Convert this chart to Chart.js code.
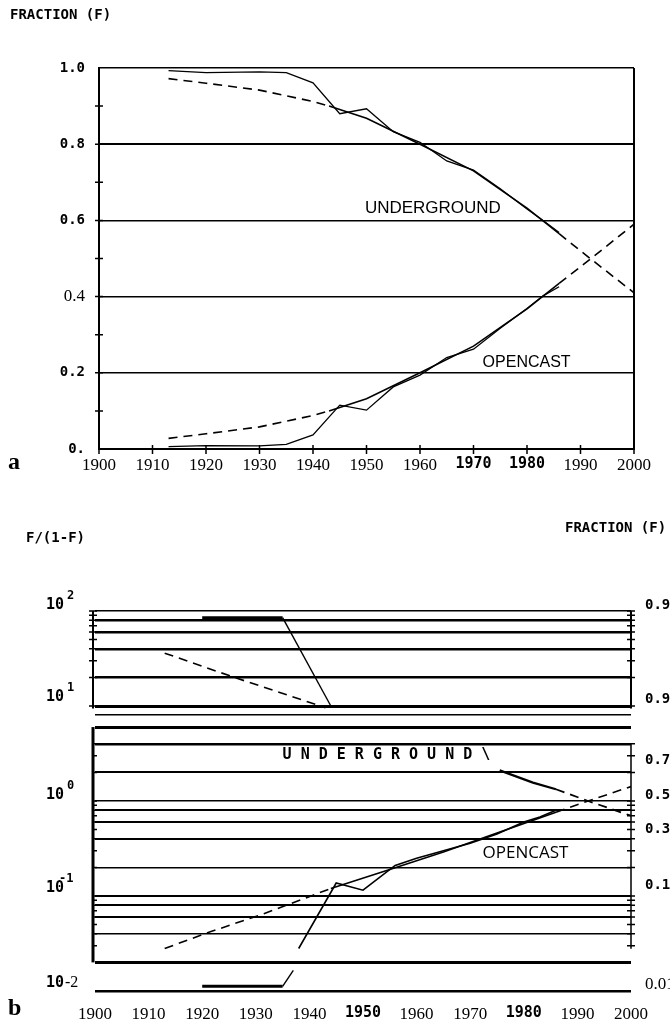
<!DOCTYPE html>
<html lang="en">
<head>
<meta charset="UTF-8">
<title>Underground and opencast fractions</title>
<script src="https://cdn.jsdelivr.net/npm/chart.js"></script>
<style>
  html, body { margin: 0; padding: 0; background: #fff; }
  body { width: 670px; height: 1025px; position: relative; overflow: hidden; }
  canvas { position: absolute; left: 0; }
  #chartA { top: 0; }
  #chartB { top: 500px; }
</style>
</head>
<body>
<canvas id="chartA" width="670" height="500"></canvas>
<canvas id="chartB" width="670" height="525"></canvas>
<script>
// ---- panel a : fraction F ----
const years = [1913, 1920, 1930, 1935, 1940, 1945, 1950, 1955, 1960, 1965, 1970, 1975, 1980, 1983, 1986];
const undergroundF = [0.993, 0.988, 0.990, 0.988, 0.961, 0.880, 0.893, 0.833, 0.805, 0.756, 0.732, 0.683, 0.630, 0.600, 0.568];
const opencastF = [0.006, 0.009, 0.008, 0.012, 0.037, 0.115, 0.102, 0.163, 0.194, 0.240, 0.262, 0.317, 0.369, 0.402, 0.426];
const fitYears = [1913, 1920, 1930, 1940, 1943, 1950, 1960, 1970, 1980, 1986, 1990, 2000];
const undergroundFitF = [0.972, 0.960, 0.942, 0.912, 0.900, 0.868, 0.800, 0.730, 0.632, 0.565, 0.520, 0.410];
const opencastFitF = [0.028, 0.040, 0.058, 0.088, 0.100, 0.132, 0.200, 0.270, 0.368, 0.435, 0.478, 0.590];
const yearTicks = [1900, 1910, 1920, 1930, 1940, 1950, 1960, 1970, 1980, 1990, 2000];

// ---- panel b : F/(1-F), log scale ----
const ugUpperYears = [1920, 1935, 1944];
const ugUpperRatio = [85, 85, 10];
const ugUpperFitYears = [1913, 1926, 1943];
const ugUpperFitRatio = [36, 20, 9.6];
const ugLowerYears = [1975.5, 1981.7, 1986];
const ugLowerRatio = [2.1, 1.56, 1.33];
const ugLowerFitYears = [1986, 1992, 2000];
const ugLowerFitRatio = [1.33, 1.0, 0.70];
const ocYears = [1938, 1945, 1950, 1956, 1960, 1965, 1970, 1975, 1980, 1983, 1986];
const ocRatio = [0.028, 0.137, 0.115, 0.21, 0.25, 0.30, 0.36, 0.45, 0.60, 0.68, 0.80];
const ocFitYears = [1913, 1921.5, 1931.5, 1944, 1955, 1965, 1975, 1986, 1992, 2000];
const ocFitRatio = [0.028, 0.042, 0.065, 0.12, 0.19, 0.29, 0.46, 0.76, 1.0, 1.42];
const ocStripYears = [1920, 1935, 1937];
const ocStripRatio = [0.0112, 0.0112, 0.0165];
const ratioGrid = [100, 80, 60, 40, 20, 10, 8, 6, 4, 2, 1, 0.8, 0.6, 0.4, 0.2, 0.1, 0.08, 0.06, 0.04, 0.02, 0.01];
const rightLabels = ['0.99', '0.91', '0.7', '0.5', '0.3', '0.1', '0.01'];
const rightLabelRatio = [99, 10.1, 2.33, 1, 0.43, 0.111, 0.0101];
const upperAxisTicks = [100, 90, 80, 70, 60, 50, 40, 30, 20, 10];
const lowerAxisTicks = [4, 3, 2, 1, 0.9, 0.8, 0.7, 0.6, 0.5, 0.4, 0.3, 0.2, 0.1, 0.09, 0.08, 0.07, 0.06, 0.05, 0.04, 0.03];

const MONO = 'DejaVu Sans Mono';
const SERIF = 'Liberation Serif';

function pts(xs, ys) { return xs.map((x, i) => ({ x: x, y: ys[i] })); }
function line(data, width, extra) {
  return Object.assign({ data: data, borderColor: '#000', borderWidth: width, pointRadius: 0, fill: false, tension: 0 }, extra || {});
}
function tickVal(c) { return c && c.tick ? c.tick.value : null; }
// fit curves are dashed outside the data period
const fitSegment = { borderDash: c => (c.p0.parsed.x < 1943 || c.p0.parsed.x >= 1986) ? [9, 6] : [] };

const decorA = {
  id: 'decorA',
  afterDraw(chart) {
    const { ctx, chartArea: a, scales: { x, y } } = chart;
    ctx.save();
    ctx.strokeStyle = '#000';
    ctx.lineWidth = 2;
    ctx.beginPath();
    ctx.moveTo(a.right, a.top); ctx.lineTo(a.right, a.bottom + 1);
    ctx.stroke();
    ctx.lineWidth = 1.5;
    ctx.beginPath();
    for (let i = 1; i < 10; i++) {
      const py = y.getPixelForValue(i / 10);
      ctx.moveTo(a.left - 4, py); ctx.lineTo(a.left + 4, py);
    }
    yearTicks.forEach(t => {
      const px = x.getPixelForValue(t);
      ctx.moveTo(px, a.bottom - 4); ctx.lineTo(px, a.bottom + 5);
    });
    ctx.stroke();

    ctx.fillStyle = '#000';
    ctx.textBaseline = 'middle';
    ctx.font = 'bold 14px ' + MONO;
    ctx.fillText('FRACTION (F)', 10, 15);
    ctx.font = 'bold 24px ' + SERIF;
    ctx.fillText('a', 8, 463);
    ctx.font = '17px "Liberation Sans"';
    ctx.fillText('UNDERGROUND', x.getPixelForValue(1949.7), y.getPixelForValue(0.633));
    ctx.font = '16px "Liberation Sans"';
    ctx.fillText('OPENCAST', x.getPixelForValue(1971.7), y.getPixelForValue(0.228));
    ctx.restore();
  }
};

new Chart(document.getElementById('chartA'), {
  type: 'line',
  data: {
    datasets: [
      line(pts(years, undergroundF), 1.3),
      line(pts(years, opencastF), 1.3),
      line(pts(fitYears, undergroundFitF), 1.6, { segment: fitSegment }),
      line(pts(fitYears, opencastFitF), 1.6, { segment: fitSegment })
    ]
  },
  options: {
    responsive: false,
    animation: false,
    layout: { padding: { top: 68, right: 36, left: 0, bottom: 0 } },
    plugins: { legend: { display: false }, tooltip: { enabled: false } },
    scales: {
      x: {
        type: 'linear', min: 1900, max: 2000,
        afterBuildTicks: s => { s.ticks = yearTicks.map(v => ({ value: v })); },
        afterFit: s => { s.height = 51; },
        grid: { display: false },
        border: { display: true, color: '#000', width: 2 },
        ticks: {
          color: '#000', padding: -2, maxRotation: 0, autoSkip: false,
          callback: v => String(v),
          font: c => {
            const v = tickVal(c);
            return (v === 1970 || v === 1980) ? { family: MONO, size: 15, weight: 'bold' } : { family: SERIF, size: 17 };
          }
        }
      },
      y: {
        min: 0, max: 1,
        afterFit: s => { s.width = 99; },
        border: { display: true, color: '#000', width: 2 },
        grid: {
          drawTicks: false,
          color: c => (Math.round((tickVal(c) || 0) * 10) % 2 === 0) ? '#000' : 'rgba(0,0,0,0)',
          lineWidth: c => Math.round((tickVal(c) || 0) * 10) === 8 ? 2 : 1.5
        },
        ticks: {
          stepSize: 0.1, color: '#000', padding: 14, autoSkip: false,
          callback: v => {
            const k = Math.round(v * 10);
            if (k % 2) return '';
            return k === 0 ? '0.' : (k / 10).toFixed(1);
          },
          font: c => {
            const k = Math.round((tickVal(c) || 0.1) * 10);
            return (k === 4 || k === 0) ? { family: SERIF, size: 17 } : { family: MONO, size: 14, weight: 'bold' };
          }
        }
      }
    }
  },
  plugins: [decorA]
});

// ---- panel b ----
const gridWidth = { 100: 1.5, 80: 2.5, 60: 2.5, 40: 2.5, 20: 2.5, 10: 3, 8: 1.5, 6: 3, 4: 2.5, 2: 2, 1: 1.5,
  0.8: 2, 0.6: 2, 0.4: 2, 0.2: 1.5, 0.1: 2, 0.08: 2, 0.06: 2, 0.04: 1.5, 0.02: 3, 0.01: 2.5 };

const decorB = {
  id: 'decorB',
  afterDraw(chart) {
    const { ctx, chartArea: a, scales: { x, y } } = chart;
    const py = v => y.getPixelForValue(v);
    const lx = a.left - 2, rx = a.right;
    ctx.save();
    ctx.strokeStyle = '#000';
    // upper panel axes
    ctx.lineWidth = 2;
    ctx.beginPath();
    ctx.moveTo(lx, py(100)); ctx.lineTo(lx, py(9.4));
    ctx.moveTo(rx, py(100)); ctx.lineTo(rx, py(9.4));
    ctx.stroke();
    // lower box
    ctx.lineWidth = 3;
    ctx.beginPath();
    ctx.moveTo(lx, py(6)); ctx.lineTo(lx, py(0.02));
    ctx.stroke();
    ctx.lineWidth = 1.5;
    ctx.beginPath();
    ctx.moveTo(rx, py(4)); ctx.lineTo(rx, py(0.03) + 3);
    upperAxisTicks.forEach(v => {
      ctx.moveTo(lx - 4, py(v)); ctx.lineTo(lx + 4, py(v));
      ctx.moveTo(rx - 4, py(v)); ctx.lineTo(rx + 4, py(v));
    });
    lowerAxisTicks.forEach(v => {
      ctx.moveTo(lx, py(v)); ctx.lineTo(lx + 4, py(v));
      ctx.moveTo(rx - 4, py(v)); ctx.lineTo(rx + 4, py(v));
    });
    ctx.stroke();

    ctx.fillStyle = '#000';
    ctx.textBaseline = 'middle';
    ctx.font = 'bold 14px ' + MONO;
    ctx.fillText('F/(1-F)', 26, 38);
    ctx.fillText('FRACTION (F)', 565, 28);
    ctx.font = 'bold 24px ' + SERIF;
    ctx.fillText('b', 8, 509);

    // left labels 10^n
    const big = 'bold 15px ' + MONO, sup = 'bold 12px ' + MONO;
    [[100, '2', -6], [10, '1', -9], [1, '0', -6], [0.1, '-1', -8]].forEach(([v, e, off]) => {
      ctx.font = big; ctx.fillText('10', 46, py(v) + off);
      ctx.font = sup; ctx.fillText(e, e.length > 1 ? 59 : 67, py(v) + off - 9);
    });
    ctx.font = big; ctx.fillText('10', 46, py(0.01) - 8);
    ctx.font = '16px ' + SERIF; ctx.fillText('-2', 65, py(0.01) - 8);

    // right labels in F
    rightLabels.forEach((t, i) => {
      ctx.font = t === '0.01' ? '17px ' + SERIF : 'bold 14px ' + MONO;
      ctx.fillText(t, 645, py(rightLabelRatio[i]) - 6);
    });

    ctx.font = 'bold 15px ' + MONO;
    ctx.fillText('U N D E R G R O U N D \\', x.getPixelForValue(1935), py(3.05));
    ctx.font = '17px "Open Sans"';
    ctx.fillText('OPENCAST', x.getPixelForValue(1972.3), py(0.284));
    ctx.restore();
  }
};

new Chart(document.getElementById('chartB'), {
  type: 'line',
  data: {
    datasets: [
      line(pts(ugUpperYears, ugUpperRatio), 1.4, { segment: { borderWidth: c => c.p0.parsed.x < 1934 ? 3 : 1.4 } }),
      line(pts(ugUpperFitYears, ugUpperFitRatio), 1.6, { borderDash: [9, 6] }),
      line(pts(ugLowerYears, ugLowerRatio), 2.2),
      line(pts(ugLowerFitYears, ugLowerFitRatio), 1.8, { borderDash: [9, 6] }),
      line(pts(ocYears, ocRatio), 1.6),
      line(pts(ocFitYears, ocFitRatio), 1.6, { segment: fitSegment }),
      line(pts(ocStripYears, ocStripRatio), 1.4, { segment: { borderWidth: c => c.p0.parsed.x < 1934 ? 3 : 1.4 } })
    ]
  },
  options: {
    responsive: false,
    animation: false,
    layout: { padding: { top: 111, right: 39, left: 0, bottom: 0 } },
    plugins: { legend: { display: false }, tooltip: { enabled: false } },
    scales: {
      x: {
        type: 'linear', min: 1900, max: 2000,
        afterBuildTicks: s => { s.ticks = yearTicks.map(v => ({ value: v })); },
        afterFit: s => { s.height = 34; },
        grid: { display: false },
        border: { display: false },
        ticks: {
          color: '#000', padding: 5, maxRotation: 0, autoSkip: false,
          callback: v => String(v),
          font: c => {
            const v = tickVal(c);
            return (v === 1950 || v === 1980) ? { family: MONO, size: 15, weight: 'bold' } : { family: SERIF, size: 17 };
          }
        }
      },
      y: {
        type: 'logarithmic', min: 0.01, max: 100,
        afterBuildTicks: s => { s.ticks = ratioGrid.map(v => ({ value: v })); },
        afterFit: s => { s.width = 95; },
        border: { display: false },
        grid: {
          drawTicks: false, color: '#000',
          lineWidth: c => gridWidth[tickVal(c)] || 1.5
        },
        ticks: { display: false }
      }
    }
  },
  plugins: [decorB]
});
</script>
</body>
</html>
